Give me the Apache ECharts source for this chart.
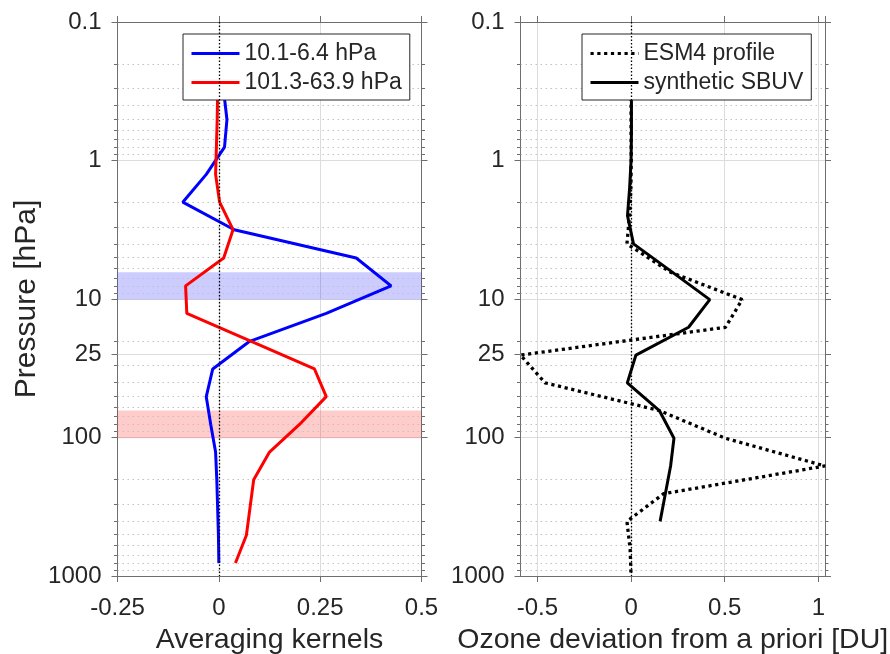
<!DOCTYPE html>
<html>
<head>
<meta charset="utf-8">
<script src="https://cdn.jsdelivr.net/npm/echarts@6/dist/echarts.min.js"></script>
<style>html,body{margin:0;padding:0;background:#fff}#c{width:890px;height:654px}</style>
</head>
<body>
<div id="c"></div>
<script>
// ---------- data ----------
const akLevels = [0.316, 0.506, 0.8, 1.26, 2.0, 3.16, 5.06, 8.04, 12.7, 20.2, 32.0, 50.7, 80.5, 127.5, 202, 320, 508, 805];
const akUpper = [0.012, 0.020, 0.014, -0.031, -0.089, 0.038, 0.339, 0.425, 0.265, 0.076, -0.015, -0.031, -0.020, -0.008, -0.005, -0.003, -0.001, 0.000];
const akLower = [-0.003, -0.004, -0.006, -0.008, 0.002, 0.035, 0.012, -0.082, -0.079, 0.080, 0.236, 0.265, 0.199, 0.125, 0.086, 0.077, 0.068, 0.041];

const esmLevels = [0.16, 0.25, 0.40, 0.64, 1.0, 1.6, 2.5, 4.0, 6.4, 10.1, 16.0, 25.4, 40.3, 63.9, 101.3, 160.6, 254.5, 403.4, 639.3, 1000];
const esmProfile = [0.000, 0.000, 0.000, 0.000, 0.001, -0.001, -0.008, -0.022, 0.210, 0.593, 0.504, -0.590, -0.459, 0.151, 0.504, 1.035, 0.174, -0.022, -0.005, 0.000];
const sbuvLevels = [0.16, 0.25, 0.40, 0.64, 1.0, 1.6, 2.5, 4.0, 6.4, 10.1, 16.0, 25.4, 40.3, 63.9, 101.3, 160.6, 254.5, 403.4];
const sbuvSynthetic = [0.002, 0.002, 0.002, 0.002, 0.000, -0.008, -0.019, 0.013, 0.220, 0.420, 0.307, 0.026, -0.020, 0.151, 0.229, 0.211, 0.183, 0.155];

const upperBand = [6.4, 10.1];
const lowerBand = [63.9, 101.3];

const leftXTicks = [-0.25, 0.5, 0.25];   // min, max, interval
const rightXRange = [-0.59, 1.035, 0.5]; // min, max, interval
const yRange = [0.1, 1000];
const minorP = [0.2,0.3,0.4,0.5,0.6,0.7,0.8,0.9, 2,3,4,5,6,7,8,9, 20,30,40,50,60,70,80,90, 200,300,400,500,600,700,800,900];
const extraMajorP = [25];

const names = {
  upper: '10.1-6.4 hPa', lower: '101.3-63.9 hPa',
  esm: 'ESM4 profile', sbuv: 'synthetic SBUV',
  xLeft: 'Averaging kernels', xRight: 'Ozone deviation from a priori [DU]', y: 'Pressure [hPa]'
};

// ---------- style ----------
const FONT = '"Liberation Sans", Arial, Helvetica, sans-serif';
const TXT = '#262626';
const AX = '#6e6e6e';
const GRIDC = '#dcdcdc';
const MINORC = '#c2c2c2';
const TICKFS = 24;

function pairs(xs, ps) { return ps.map((p, i) => [xs[i], p]); }
function fmt(v) { return String(+Number(v).toPrecision(6)); }

function gridRender(params, api) {
  const cs = params.coordSys;
  const p = api.value(1);
  const kind = api.value(2);
  const y = Math.round(api.coord([0, p])[1]) + 0.5;
  const x0 = cs.x, x1 = cs.x + cs.width;
  const len = kind ? 6 : 3.5;
  const ch = [
    {type: 'line', shape: {x1: x0, y1: y, x2: x1, y2: y},
     style: {stroke: kind ? GRIDC : MINORC, lineWidth: 1, lineDash: kind ? null : [1.5, 3.5]}},
    {type: 'line', shape: {x1: x0 - len, y1: y, x2: x0, y2: y}, style: {stroke: AX, lineWidth: 1}},
    {type: 'line', shape: {x1: x1, y1: y, x2: x1 + len, y2: y}, style: {stroke: AX, lineWidth: 1}}
  ];
  if (kind) {
    ch.push({type: 'text', style: {text: fmt(p), x: x0 - 16, y: y, align: 'right', verticalAlign: 'middle',
      textAlign: 'right', textVerticalAlign: 'middle', fontSize: TICKFS, fontFamily: FONT, fill: TXT}});
  }
  return {type: 'group', children: ch};
}
const gridData = minorP.map(p => [0, p, 0]).concat(extraMajorP.map(p => [0, p, 1]));

function xAxisBase(gi, range, pos, mirror, name) {
  return {
    type: 'value', gridIndex: gi, position: pos, min: range[0], max: range[1],
    axisLine: {show: true, onZero: false, lineStyle: {color: AX, width: 1}},
    axisTick: {show: true, inside: false, length: 6, lineStyle: {color: AX}},
    axisLabel: {show: !mirror, margin: 20, fontSize: TICKFS, color: TXT, fontFamily: FONT, formatter: fmt},
    splitLine: {show: !mirror, lineStyle: {color: GRIDC, width: 1}},
    name: mirror ? '' : name, nameLocation: 'middle', nameGap: 50,
    nameTextStyle: {fontSize: 28.5, color: TXT, fontFamily: FONT}
  };
}
function yAxisBase(gi, pos, mirror, name) {
  return {
    type: 'log', logBase: 10, gridIndex: gi, position: pos, min: yRange[0], max: yRange[1], inverse: true,
    axisLine: {show: true, onZero: false, lineStyle: {color: AX, width: 1}},
    axisTick: {show: true, inside: false, length: 6, lineStyle: {color: AX}},
    minorTick: {show: false}, minorSplitLine: {show: false},
    axisLabel: {show: !mirror, margin: 16, fontSize: TICKFS, color: TXT, fontFamily: FONT, showMinLabel: true, showMaxLabel: true, formatter: fmt},
    splitLine: {show: !mirror, lineStyle: {color: GRIDC, width: 1}},
    name: name || '', nameLocation: 'middle', nameGap: 76,
    nameTextStyle: {fontSize: 30, color: TXT, fontFamily: FONT}
  };
}

const xa0 = xAxisBase(0, leftXTicks, 'bottom', false, names.xLeft);
xa0.interval = leftXTicks[2];
xa0.axisLabel.showMinLabel = true; xa0.axisLabel.showMaxLabel = true;
const xa1 = xAxisBase(0, leftXTicks, 'top', true);
xa1.interval = leftXTicks[2];
const xa2 = xAxisBase(1, rightXRange, 'bottom', false, names.xRight);
xa2.minInterval = rightXRange[2]; xa2.maxInterval = rightXRange[2];
xa2.axisLabel.showMinLabel = false; xa2.axisLabel.showMaxLabel = false;
const xa3 = xAxisBase(1, rightXRange, 'top', true);
xa3.minInterval = rightXRange[2]; xa3.maxInterval = rightXRange[2];

const legendCommon = {
  orient: 'vertical', itemWidth: 48, itemHeight: 14, itemGap: 6,
  borderColor: '#262626', borderWidth: 1, backgroundColor: '#ffffff',
  padding: [8, 8, 6, 7], borderRadius: 0,
  itemStyle: {opacity: 0, color: 'rgba(0,0,0,0)', borderWidth: 0},
  lineStyle: {width: 3},
  textStyle: {fontSize: 23, color: TXT, fontFamily: FONT},
  selectedMode: false
};

const option = {
  animation: false,
  backgroundColor: '#ffffff',
  grid: [
    {left: 117.5, top: 22, width: 304, height: 554, containLabel: false, outerBoundsMode: 'none'},
    {left: 520.5, top: 22, width: 304.5, height: 554, containLabel: false, outerBoundsMode: 'none'}
  ],
  xAxis: [xa0, xa1, xa2, xa3],
  yAxis: [yAxisBase(0, 'left', false, names.y), yAxisBase(0, 'right', true), yAxisBase(1, 'left', false), yAxisBase(1, 'right', true)],
  legend: [
    Object.assign({}, legendCommon, {left: 183, top: 34, data: [names.upper, names.lower]}),
    Object.assign({}, legendCommon, {left: 582, top: 34, data: [names.esm, names.sbuv]})
  ],
  series: [
    {type: 'custom', name: 'grid0', xAxisIndex: 0, yAxisIndex: 0, z: 1, silent: true, clip: false,
     renderItem: gridRender, data: gridData, encode: {x: 0, y: 1}},
    {type: 'custom', name: 'grid1', xAxisIndex: 2, yAxisIndex: 2, z: 1, silent: true, clip: false,
     renderItem: gridRender, data: gridData, encode: {x: 0, y: 1}},
    {type: 'line', name: 'marks0', xAxisIndex: 0, yAxisIndex: 0, z: 2, silent: true, data: [],
     markArea: {silent: true, data: [
       [{yAxis: upperBand[0], itemStyle: {color: 'rgba(0,0,255,0.2)'}}, {yAxis: upperBand[1]}],
       [{yAxis: lowerBand[0], itemStyle: {color: 'rgba(255,0,0,0.2)'}}, {yAxis: lowerBand[1]}]
     ]},
     markLine: {silent: true, symbol: 'none', label: {show: false},
       lineStyle: {color: '#000', width: 1.3, type: [1.5, 2]}, data: [{xAxis: 0}]}},
    {type: 'line', name: 'marks1', xAxisIndex: 2, yAxisIndex: 2, z: 2, silent: true, data: [],
     markLine: {silent: true, symbol: 'none', label: {show: false},
       lineStyle: {color: '#000', width: 1.3, type: [1.5, 2]}, data: [{xAxis: 0}]}},
    {type: 'line', name: names.upper, xAxisIndex: 0, yAxisIndex: 0, z: 3, symbol: 'none',
     color: '#0000ff', lineStyle: {color: '#0000ff', width: 3}, data: pairs(akUpper, akLevels)},
    {type: 'line', name: names.lower, xAxisIndex: 0, yAxisIndex: 0, z: 3, symbol: 'none',
     color: '#ff0000', lineStyle: {color: '#ff0000', width: 3}, data: pairs(akLower, akLevels)},
    {type: 'line', name: names.esm, xAxisIndex: 2, yAxisIndex: 2, z: 3, symbol: 'none',
     color: '#000000', lineStyle: {color: '#000000', width: 3.3, type: [3.2, 3.6], cap: 'butt'}, data: pairs(esmProfile, esmLevels)},
    {type: 'line', name: names.sbuv, xAxisIndex: 2, yAxisIndex: 2, z: 3, symbol: 'none',
     color: '#000000', lineStyle: {color: '#000000', width: 3}, data: pairs(sbuvSynthetic, sbuvLevels)}
  ]
};

const chart = echarts.init(document.getElementById('c'), null, {renderer: 'canvas'});
chart.setOption(option);
</script>
</body>
</html>
